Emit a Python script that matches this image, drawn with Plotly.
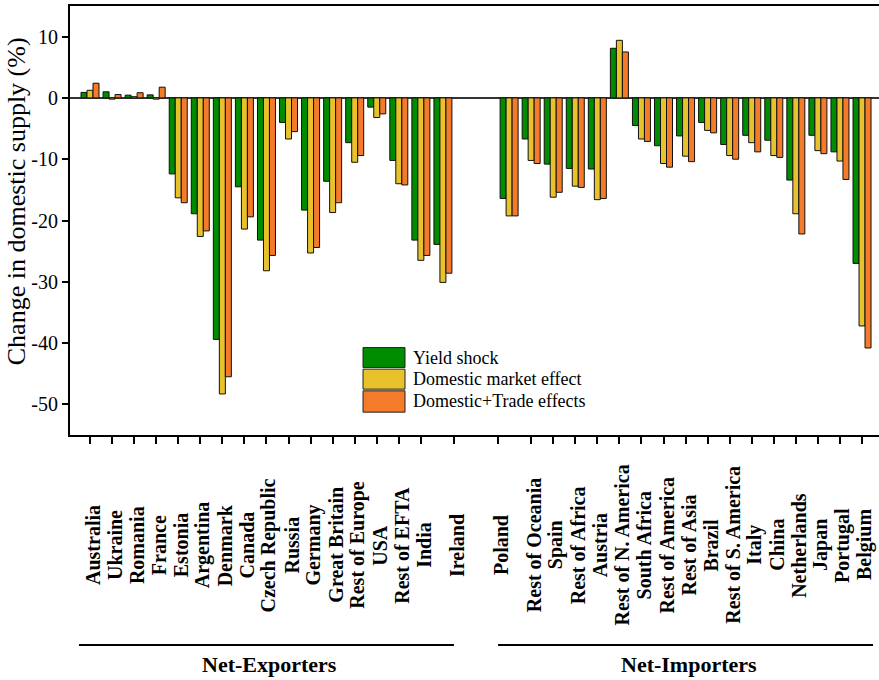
import plotly.graph_objects as go

# Regions grouped by trade position
exporters = ["Australia", "Ukraine", "Romania", "France", "Estonia", "Argentina",
             "Denmark", "Canada", "Czech Republic", "Russia", "Germany",
             "Great Britain", "Rest of Europe", "USA", "Rest of EFTA", "India", "Ireland"]
importers = ["Poland", "Rest of Oceania", "Spain", "Rest of Africa", "Austria",
             "Rest of N. America", "South Africa", "Rest of America", "Rest of Asia",
             "Brazil", "Rest of S. America", "Italy", "China", "Netherlands",
             "Japan", "Portugal", "Belgium"]

# Change in domestic supply (%)
yield_exp = [0.9, 1.0, 0.45, 0.5, -12.4, -18.9, -39.4, -14.5, -23.2, -4.0, -18.3,
             -13.6, -7.3, -1.5, -10.2, -23.2, -23.9]
market_exp = [1.25, -0.2, 0.2, -0.2, -16.3, -22.6, -48.3, -21.4, -28.2, -6.7, -25.3,
              -18.7, -10.5, -3.2, -14.0, -26.5, -30.1]
trade_exp = [2.4, 0.55, 0.85, 1.75, -17.1, -21.7, -45.5, -19.4, -25.7, -5.5, -24.4,
             -17.1, -9.4, -2.6, -14.2, -25.7, -28.6]

yield_imp = [-16.4, -6.7, -10.8, -11.5, -11.6, 8.1, -4.5, -7.8, -6.2, -4.0, -7.6,
             -6.1, -6.9, -13.4, -6.1, -8.8, -27.0]
market_imp = [-19.25, -10.2, -16.2, -14.4, -16.6, 9.4, -6.7, -10.7, -9.5, -5.3, -9.4,
              -7.3, -9.4, -18.9, -8.6, -10.3, -37.2]
trade_imp = [-19.25, -10.7, -15.4, -14.6, -16.4, 7.5, -7.1, -11.3, -10.4, -5.7, -10.0,
             -8.8, -9.7, -22.2, -9.1, -13.3, -40.8]

y_ticks = [10, 0, -10, -20, -30, -40, -50]

series_names = ["Yield shock", "Domestic market effect", "Domestic+Trade effects"]
series_colors = ["#008C00", "#E8C22C", "#F47B2A"]
group_titles = ["Net-Exporters", "Net-Importers"]

# Numeric slots: exporters first, two empty slots, then importers
GAP = 2
x_exp = list(range(len(exporters)))
x_imp = [len(exporters) + GAP + j for j in range(len(importers))]
x_all = x_exp + x_imp
labels = exporters + importers
series_vals = [yield_exp + yield_imp, market_exp + market_imp, trade_exp + trade_imp]

SERIF = "Liberation Serif, Times New Roman, serif"

fig = go.Figure()
for name, color, vals in zip(series_names, series_colors, series_vals):
    fig.add_trace(go.Bar(
        x=x_all, y=vals, name=name, showlegend=False,
        marker=dict(color=color, line=dict(color="#111111", width=1)),
    ))

# Tick marks at the outer edge of each group sit half a slot outward
tick_nudge = {exporters[-1]: 0.5, importers[0]: -0.5}
tick_pos = [x + tick_nudge.get(lab, 0) for x, lab in zip(x_all, labels)]

annotations = []
shapes = []

# Rotated category labels, centred below the axis
for pos, lab in zip(tick_pos, labels):
    annotations.append(dict(
        x=pos, y=-0.2564, xref="x", yref="paper", text=lab, textangle=-90,
        showarrow=False, xanchor="center", yanchor="middle", xshift=3,
        font=dict(family=SERIF, size=20, color="black", weight="bold"),
    ))

# Group brackets and titles
for title, xs in zip(group_titles, [x_exp, x_imp]):
    x0, x1 = xs[0] - 0.5, xs[-1] + 0.5
    shapes.append(dict(type="line", xref="x", yref="paper", x0=x0, x1=x1,
                       y0=-0.4895, y1=-0.4895, line=dict(color="black", width=2)))
    annotations.append(dict(
        x=(x0 + x1) / 2, y=-0.536, xref="x", yref="paper", text=title,
        showarrow=False, xanchor="center", yanchor="middle", xshift=3,
        font=dict(family=SERIF, size=22, color="black", weight="bold"),
    ))

# Y-axis title
annotations.append(dict(
    x=-0.0667, y=0.545, xref="paper", yref="paper",
    text="Change in domestic supply (%)", textangle=-90, showarrow=False,
    xanchor="center", yanchor="middle",
    font=dict(family=SERIF, size=26, color="black"),
))

# Legend drawn as wide swatches
legend_rows = [(0.2058, 0.1555), (0.1555, 0.1049), (0.1049, 0.0513)]
for (top, bot), name, color in zip(legend_rows, series_names, series_colors):
    shapes.append(dict(type="rect", xref="paper", yref="paper",
                       x0=0.3622, x1=0.4141, y0=bot + 0.002, y1=top - 0.002,
                       fillcolor=color, line=dict(color="#222222", width=1)))
    annotations.append(dict(
        x=0.4215, y=(top + bot) / 2, xref="paper", yref="paper", text=name,
        showarrow=False, xanchor="left", yanchor="middle",
        font=dict(family=SERIF, size=18, color="black"),
    ))

fig.update_layout(
    width=879, height=680,
    margin=dict(l=70, r=0, t=6, b=245),
    paper_bgcolor="white", plot_bgcolor="white",
    barmode="group", bargap=0.184, bargroupgap=0,
    annotations=annotations, shapes=shapes,
    font=dict(family=SERIF, color="black"),
)
fig.update_xaxes(
    range=[-0.907, 35.77], tickvals=tick_pos, showticklabels=False,
    ticks="outside", ticklen=7, tickwidth=1.5, tickcolor="black",
    showline=True, linecolor="black", linewidth=2, mirror=True,
    showgrid=False, zeroline=False,
)
fig.update_yaxes(
    range=[-55, 15], tickvals=y_ticks, ticktext=[str(v) for v in y_ticks],
    ticks="outside", ticklen=6, tickwidth=1.5, tickcolor="black",
    tickfont=dict(family=SERIF, size=20, color="black"),
    showline=True, linecolor="black", linewidth=2, mirror=False,
    showgrid=False, zeroline=True, zerolinecolor="#333333", zerolinewidth=1.5,
)

fig.write_html("out.html")
